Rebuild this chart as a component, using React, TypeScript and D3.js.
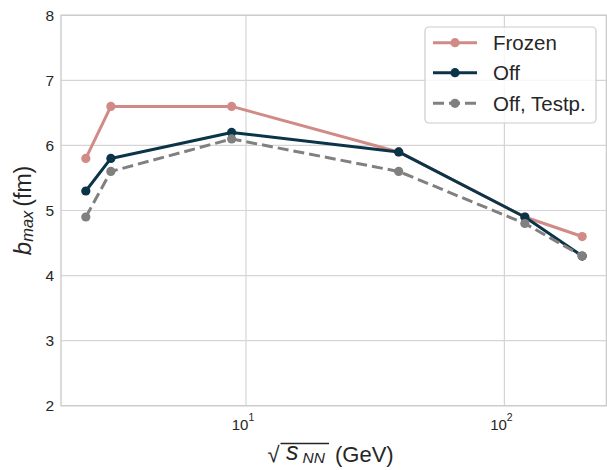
import React from "react";
import * as d3 from "d3";

const energies = [2.4, 3.0, 8.8, 39, 120, 200];
const frozen = [5.8, 6.6, 6.6, 5.9, 4.9, 4.6];
const off = [5.3, 5.8, 6.2, 5.9, 4.9, 4.3];
const offTestp = [4.9, 5.6, 6.1, 5.6, 4.8, 4.3];
const seriesNames = ["Frozen", "Off", "Off, Testp."];
const yTicks = [2, 3, 4, 5, 6, 7, 8];
const xTicks = [10, 100];
const xTickExp = ["1", "2"];

const W = 607;
const H = 470;
const L = 61;
const R = 607;
const T = 15.3;
const B = 405.7;
const FONT = "'Liberation Sans', Arial, sans-serif";
const TXT = "#262626";
const GRID = "#d5d5d5";

export default function App() {
  const lmin = Math.log10(d3.min(energies)!);
  const lmax = Math.log10(d3.max(energies)!);
  const pad = (lmax - lmin) * 0.05;
  const x = d3.scaleLog().domain([10 ** (lmin - pad), 10 ** (lmax + pad)]).range([L, R]);
  const y = d3.scaleLinear().domain([2, 8]).range([B, T]);

  const series = [
    { name: seriesNames[0], values: frozen, color: "#d08b87", dash: undefined as string | undefined },
    { name: seriesNames[1], values: off, color: "#0c3449", dash: undefined },
    { name: seriesNames[2], values: offTestp, color: "#808080", dash: "11,5" },
  ];

  const line = d3
    .line<[number, number]>()
    .x((d) => x(d[0]))
    .y((d) => y(d[1]));

  const legX = 425;
  const legY = 27;
  const rowY = [42.7, 72.7, 103.3];

  return (
    <svg width={W} height={H} style={{ position: "absolute", left: 0, top: 0, background: "#fff" }}>
      <rect x={0} y={0} width={W} height={H} fill="#fff" />
      {/* grid */}
      {yTicks.map((t) => (
        <line key={"gy" + t} x1={L} x2={R} y1={y(t)} y2={y(t)} stroke={GRID} strokeWidth={1.2} />
      ))}
      {xTicks.map((t) => (
        <line key={"gx" + t} x1={x(t)} x2={x(t)} y1={T} y2={B} stroke={GRID} strokeWidth={1.2} />
      ))}
      {/* frame */}
      <rect x={L} y={T} width={R - L - 0.6} height={B - T} fill="none" stroke="#cccccc" strokeWidth={1.4} />

      {/* series */}
      {series.map((s) => {
        const pts: [number, number][] = energies.map((e, i) => [e, s.values[i]]);
        return (
          <g key={s.name}>
            <path
              d={line(pts)!}
              fill="none"
              stroke={s.color}
              strokeWidth={3}
              strokeDasharray={s.dash}
              strokeLinejoin="round"
            />
            {pts.map((p, i) => (
              <circle key={i} cx={x(p[0])} cy={y(p[1])} r={4.6} fill={s.color} />
            ))}
          </g>
        );
      })}

      {/* y tick labels */}
      {yTicks.map((t) => (
        <text
          key={"yt" + t}
          x={54}
          y={y(t) + 5.6}
          textAnchor="end"
          fontFamily={FONT}
          fontSize={15.5}
          fill={TXT}
        >
          {t}
        </text>
      ))}
      {/* x tick labels */}
      {xTicks.map((t, i) => (
        <text key={"xt" + t} x={x(t) - 3} y={430} textAnchor="middle" fontFamily={FONT} fontSize={15} fill={TXT}>
          10
          <tspan dy={-9} fontSize={10.5}>
            {xTickExp[i]}
          </tspan>
        </text>
      ))}

      {/* x label */}
      <g fontFamily={FONT} fill={TXT}>
        <text x={267.5} y={462} fontSize={22}>
          √
        </text>
        <line x1={280.5} x2={329} y1={443.5} y2={443.5} stroke={TXT} strokeWidth={1.3} />
        <text x={286} y={460} fontSize={25} fontStyle="italic">
          s
        </text>
        <text x={302.5} y={463} fontSize={15.5} fontStyle="italic">
          NN
        </text>
        <text x={335} y={462} fontSize={22}>
          (GeV)
        </text>
      </g>

      {/* y label */}
      <text
        transform={`translate(30.5, ${(T + B) / 2}) rotate(-90)`}
        textAnchor="middle"
        fontFamily={FONT}
        fontSize={23}
        fill={TXT}
      >
        <tspan fontStyle="italic" fontSize={24}>b</tspan>
        <tspan fontStyle="italic" fontSize={16.5} dy={2}>
          max
        </tspan>
        <tspan dy={-2} dx={4}>(fm)</tspan>
      </text>

      {/* legend */}
      <rect
        x={legX}
        y={legY}
        width={171}
        height={96}
        rx={4}
        fill="#fff"
        fillOpacity={0.8}
        stroke="#cccccc"
        strokeWidth={1.2}
      />
      {series.map((s, i) => (
        <g key={"lg" + s.name}>
          <line
            x1={433}
            x2={477}
            y1={rowY[i]}
            y2={rowY[i]}
            stroke={s.color}
            strokeWidth={3}
            strokeDasharray={s.dash}
          />
          <circle cx={455} cy={rowY[i]} r={4.6} fill={s.color} />
          <text x={493} y={rowY[i] + 7.5} fontFamily={FONT} fontSize={20.5} fill={TXT}>
            {s.name}
          </text>
        </g>
      ))}
    </svg>
  );
}
